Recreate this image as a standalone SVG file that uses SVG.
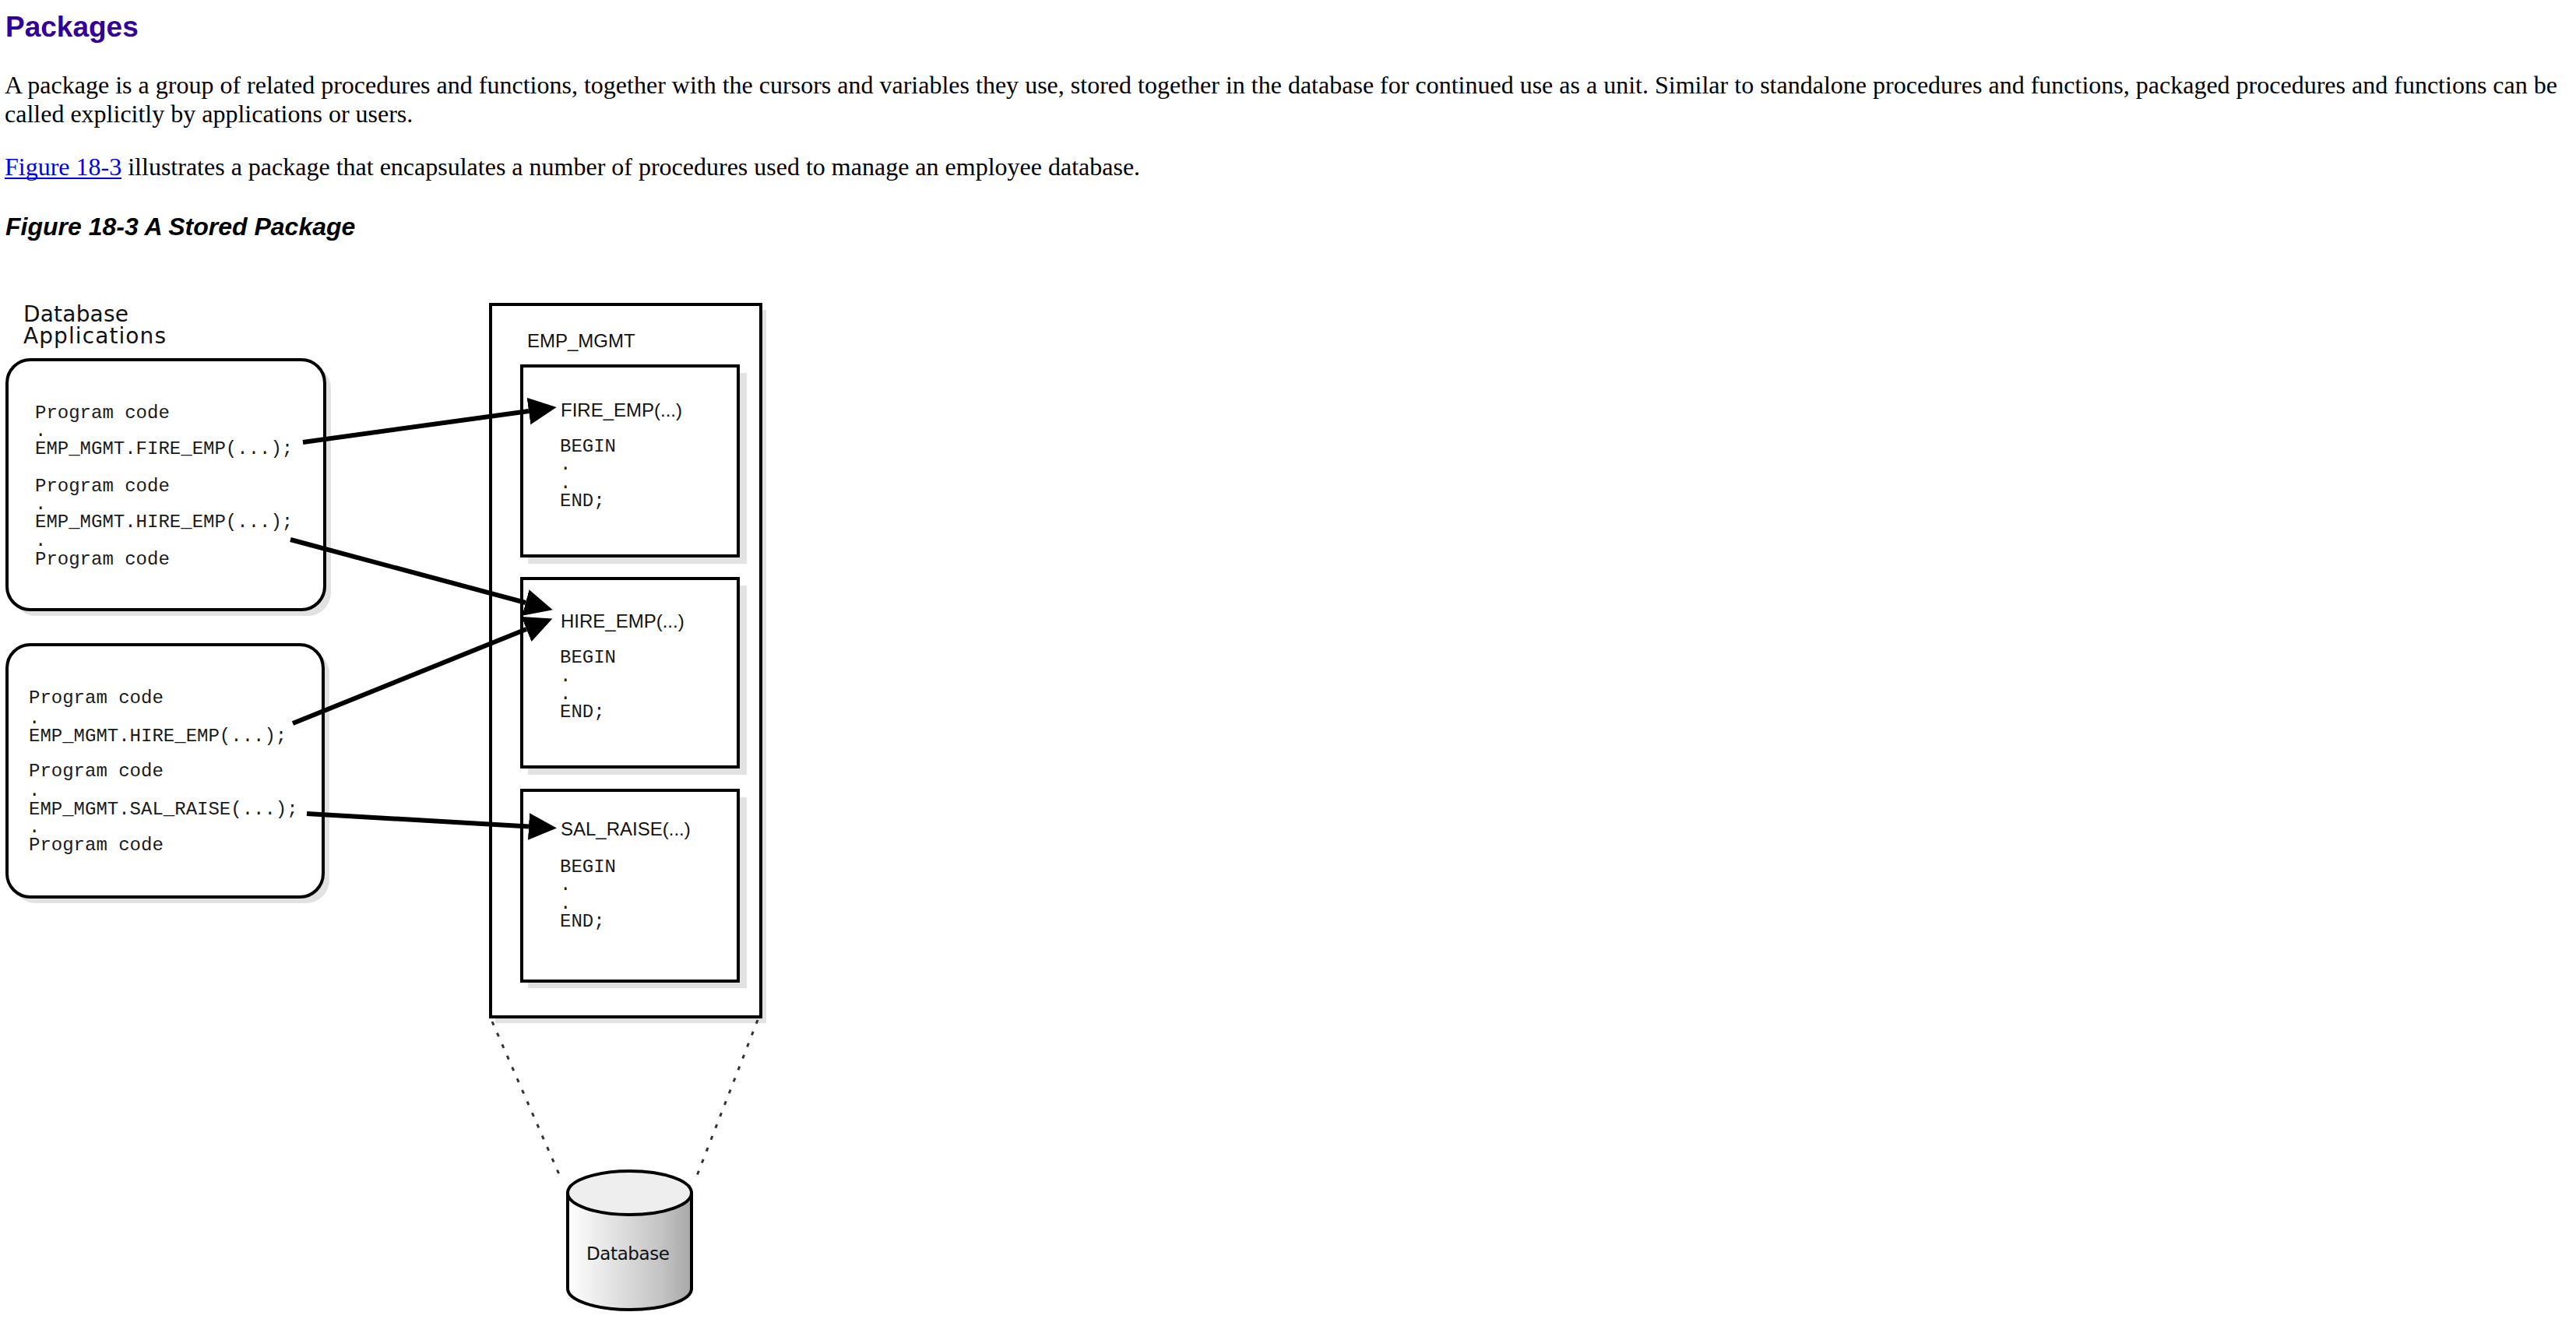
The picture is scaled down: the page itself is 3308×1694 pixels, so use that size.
<svg xmlns="http://www.w3.org/2000/svg" width="3308" height="1694" viewBox="0 0 3308 1694">
<style>
.body{font-family:"Liberation Serif","Times New Roman",serif;font-size:32px;fill:#000}
.head{font-family:"Liberation Sans",Arial,sans-serif;font-size:37px;font-weight:bold;fill:#330099}
.cap{font-family:"Liberation Sans",Arial,sans-serif;font-size:32px;font-weight:bold;font-style:italic;fill:#000}
.mono{font-family:"Liberation Mono","Courier New",monospace;font-size:24px;fill:#1a1a1a}
.sans{font-family:"Liberation Sans",Arial,sans-serif;font-size:24px;fill:#111}
.wide{font-family:"DejaVu Sans",Verdana,sans-serif;fill:#111}
.box{fill:#fff;stroke:#000;stroke-width:4}
.shadow{fill:#e2e2e2;stroke:none}
.arrow{stroke:#000;stroke-width:6;fill:none;marker-end:url(#ah)}
.dot{stroke:#333;stroke-width:3;stroke-dasharray:5 11;fill:none}
</style>
<defs>
<marker id="ah" markerUnits="userSpaceOnUse" markerWidth="40" markerHeight="40" viewBox="0 -15 30 30" refX="0" refY="0" orient="auto">
<path d="M0,-13 L27,0 L0,13 Z" fill="#000"/>
</marker>
<linearGradient id="cyl" x1="0" y1="0" x2="1" y2="0">
<stop offset="0" stop-color="#ffffff"/>
<stop offset="0.75" stop-color="#c4c4c4"/>
<stop offset="1" stop-color="#a8a8a8"/>
</linearGradient>
</defs>
<rect width="3308" height="1694" fill="#fff"/>

<text class="head" x="7" y="47">Packages</text>
<text class="body" x="6" y="120" textLength="3278" lengthAdjust="spacing">A package is a group of related procedures and functions, together with the cursors and variables they use, stored together in the database for continued use as a unit. Similar to standalone procedures and functions, packaged procedures and functions can be</text>
<text class="body" x="6" y="157">called explicitly by applications or users.</text>
<text class="body" x="6" y="225"><tspan fill="#0000EE">Figure 18-3</tspan> illustrates a package that encapsulates a number of procedures used to manage an employee database.</text>
<line x1="6" y1="229" x2="156" y2="229" stroke="#0000EE" stroke-width="2"/>
<text class="cap" x="7" y="302">Figure 18-3 A Stored Package</text>

<g id="db-apps-label">
<text class="wide" x="30" y="413" font-size="28" textLength="135">Database</text>
<text class="wide" x="30" y="441" font-size="28" textLength="183">Applications</text>
</g>

<g id="app1">
<rect class="shadow" x="16" y="469" width="409" height="322" rx="30"/>
<rect class="box" x="9" y="462" width="408" height="321" rx="30"/>
<text class="mono" x="45" y="537">Program code</text>
<text class="mono" x="45" y="560">.</text>
<text class="mono" x="45" y="583">EMP_MGMT.FIRE_EMP(...);</text>
<text class="mono" x="45" y="631">Program code</text>
<text class="mono" x="45" y="654">.</text>
<text class="mono" x="45" y="677">EMP_MGMT.HIRE_EMP(...);</text>
<text class="mono" x="45" y="701">.</text>
<text class="mono" x="45" y="725">Program code</text>
</g>

<g id="app2">
<rect class="shadow" x="16" y="835" width="407" height="325" rx="30"/>
<rect class="box" x="9" y="828" width="406" height="324" rx="30"/>
<text class="mono" x="37" y="903">Program code</text>
<text class="mono" x="37" y="929">.</text>
<text class="mono" x="37" y="952">EMP_MGMT.HIRE_EMP(...);</text>
<text class="mono" x="37" y="997">Program code</text>
<text class="mono" x="37" y="1022">.</text>
<text class="mono" x="37" y="1046">EMP_MGMT.SAL_RAISE(...);</text>
<text class="mono" x="37" y="1069">.</text>
<text class="mono" x="37" y="1092">Program code</text>
</g>

<g id="emp_mgmt">
<rect class="shadow" x="636" y="398" width="348" height="916"/>
<rect class="box" x="630" y="391" width="347" height="915" stroke-width="3.5"/>
<text class="sans" x="677" y="446">EMP_MGMT</text>
</g>

<g id="fire_emp">
<rect class="shadow" x="678" y="479" width="281" height="245"/>
<rect class="box" x="670" y="470" width="278" height="244"/>
<text class="sans" x="720" y="535">FIRE_EMP(...)</text>
<text class="mono" x="719" y="580">BEGIN</text>
<text class="mono" x="719" y="603">.</text>
<text class="mono" x="719" y="627">.</text>
<text class="mono" x="719" y="650">END;</text>
</g>

<g id="hire_emp">
<rect class="shadow" x="678" y="752" width="281" height="243"/>
<rect class="box" x="670" y="743" width="278" height="242"/>
<text class="sans" x="720" y="806">HIRE_EMP(...)</text>
<text class="mono" x="719" y="851">BEGIN</text>
<text class="mono" x="719" y="875">.</text>
<text class="mono" x="719" y="898">.</text>
<text class="mono" x="719" y="921">END;</text>
</g>

<g id="sal_raise">
<rect class="shadow" x="678" y="1024" width="281" height="245"/>
<rect class="box" x="670" y="1015" width="278" height="245"/>
<text class="sans" x="720" y="1073">SAL_RAISE(...)</text>
<text class="mono" x="719" y="1120">BEGIN</text>
<text class="mono" x="719" y="1143">.</text>
<text class="mono" x="719" y="1167">.</text>
<text class="mono" x="719" y="1190">END;</text>
</g>

<g id="database">
<path d="M729,1532 L729,1655 A79.5,27 0 0 0 888,1655 L888,1532 Z" fill="url(#cyl)" stroke="#000" stroke-width="4"/>
<ellipse cx="808.5" cy="1532" rx="79.5" ry="28" fill="#eeeeee" stroke="#000" stroke-width="4"/>
<text class="wide" x="753" y="1618" font-size="23" textLength="107">Database</text>
</g>

<g id="connectors">
<line class="arrow" x1="389" y1="568" x2="679" y2="528"/>
<line class="arrow" x1="373" y1="693" x2="675" y2="774"/>
<line class="arrow" x1="376" y1="929" x2="676" y2="808"/>
<line class="arrow" x1="394" y1="1045" x2="679" y2="1061.5"/>
<line class="dot" x1="632" y1="1312" x2="721" y2="1515"/>
<line class="dot" x1="973" y1="1310" x2="893" y2="1515"/>
</g>
</svg>
